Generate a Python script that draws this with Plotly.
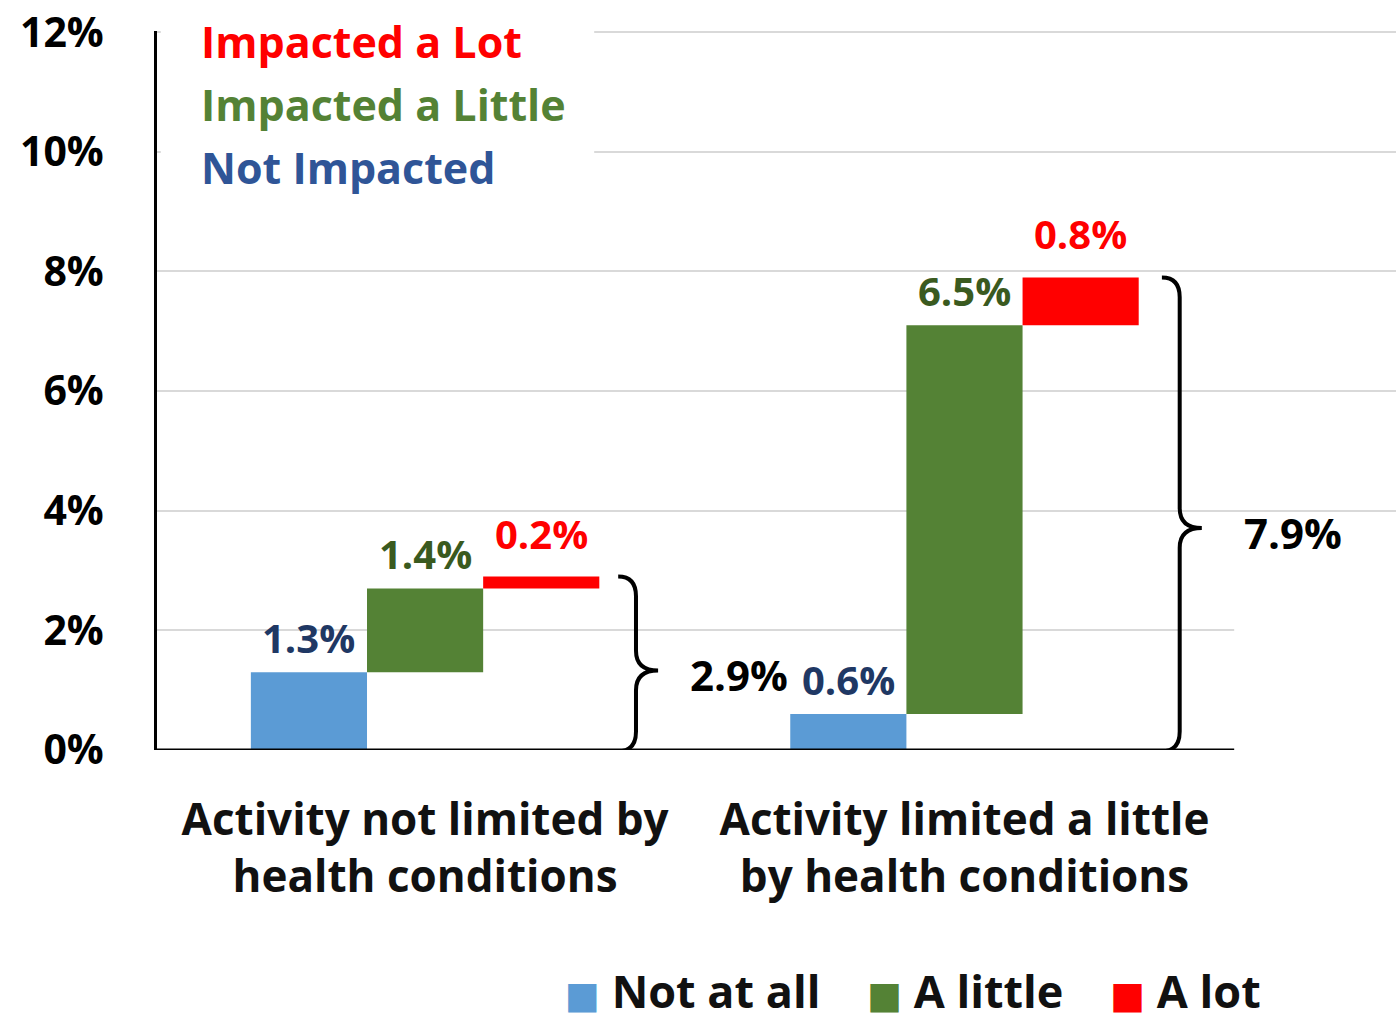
import plotly.graph_objects as go

categories = ["Activity not limited by<br>health conditions",
              "Activity limited a little<br>by health conditions"]
series_names = ["Not at all", "A little", "A lot"]
not_at_all = [0.013, 0.006]
a_little = [0.014, 0.065]
a_lot = [0.002, 0.008]
totals = [0.029, 0.079]
y_ticks = [0, 0.02, 0.04, 0.06, 0.08, 0.10, 0.12]
impact_labels = ["Impacted a Lot", "Impacted a Little", "Not Impacted"]

bar_colors = ["#5B9BD5", "#548235", "#FF0000"]
label_colors = ["#1F3864", "#3A5A1F", "#FF0000"]
impact_colors = ["#FF0000", "#548235", "#2F5597"]
FONT = "Open Sans"

x_pos = [0, 1]
bargap = 0.354
bar_w = (1 - bargap) / 3
x_range = [-0.497, 1.80]

series = [not_at_all, a_little, a_lot]
bases = []
running = [0.0, 0.0]
for vals in series:
    bases.append(list(running))
    running = [r + v for r, v in zip(running, vals)]

fig = go.Figure()
for i, (name, vals) in enumerate(zip(series_names, series)):
    fig.add_trace(go.Bar(
        x=x_pos, y=vals, base=bases[i], name=name,
        marker_color=bar_colors[i], marker_line_width=0,
        showlegend=False, hoverinfo="skip"))

annotations = []
# value labels above each bar
for i, vals in enumerate(series):
    for g, v in enumerate(vals):
        annotations.append(dict(
            x=x_pos[g] + (i - 1) * bar_w, y=bases[i][g] + v,
            xref="x", yref="y", text=f"{v * 100:.1f}%", showarrow=False,
            yanchor="bottom", yshift=14 if i == 2 else 5,
            font=dict(family=FONT, size=40, color=label_colors[i], weight="bold")))

# braces with totals
shapes = []
for g, tot in enumerate(totals):
    x0 = x_pos[g] + 1.5 * bar_w + 0.035 + 0.008 * g
    xs = x0 + 0.033
    xc = x0 + 0.074
    y0, y1 = -0.0002, tot
    ym = tot / 2 - 0.0012 * (g + 1)
    r = 0.0033
    path = (f"M{x0},{y1} Q{xs},{y1} {xs},{y1 - r} L{xs},{ym + r} "
            f"Q{xs},{ym} {xc},{ym} Q{xs},{ym} {xs},{ym - r} "
            f"L{xs},{y0 + r} Q{xs},{y0} {x0},{y0}")
    shapes.append(dict(type="path", path=path, xref="x", yref="y",
                       line=dict(color="black", width=4), layer="above"))
    annotations.append(dict(
        x=xc, y=ym, xref="x", yref="y", text=f"{tot * 100:.1f}%",
        showarrow=False, xanchor="left", yanchor="middle", xshift=30 + 10 * g, yshift=-4,
        font=dict(family=FONT, size=42, color="black", weight="bold")))

# x axis line
shapes.append(dict(type="line", xref="x", yref="y", x0=x_range[0], x1=1.5,
                   y0=0, y1=0, line=dict(color="black", width=3), layer="above"))
# white box behind the impact key, and the short 2% gridline
shapes.append(dict(type="rect", xref="x", yref="y", x0=-0.49, x1=0.3135,
                   y0=0.09, y1=0.1215, fillcolor="white", line_width=0, layer="between"))
shapes.append(dict(type="line", xref="x", yref="y", x0=1.5, x1=x_range[1],
                   y0=0.02, y1=0.02, line=dict(color="white", width=4), layer="between"))

# impact key top-left
for k, (txt, col) in enumerate(zip(impact_labels, impact_colors)):
    annotations.append(dict(
        x=0.034, y=0.986 - k * 0.0877, xref="paper", yref="paper", text=txt,
        showarrow=False, xanchor="left", yanchor="middle",
        font=dict(family=FONT, size=43, color=col, weight="bold")))

# bottom legend
gap = "&nbsp;" * 4
legend_txt = gap.join(
    f'<span style="color:{c};font-family:DejaVu Sans;font-size:37px">■</span>&nbsp;{n}'
    for n, c in zip(series_names, bar_colors))
annotations.append(dict(
    x=0.61, y=-0.335, xref="paper", yref="paper", text=legend_txt,
    showarrow=False, xanchor="center", yanchor="middle",
    font=dict(family=FONT, size=45, color="#111111", weight="bold")))

fig.update_layout(
    width=1396, height=1014, autosize=False,
    margin=dict(l=157, r=0, t=31, b=264),
    plot_bgcolor="white", paper_bgcolor="white",
    barmode="group", bargap=bargap, bargroupgap=0,
    annotations=annotations, shapes=shapes,
    showlegend=False,
)
fig.update_xaxes(
    range=x_range, tickvals=x_pos, ticktext=categories, automargin=False,
    showgrid=False, zeroline=False, showline=False, ticks="",
    ticklabelstandoff=40,
    tickfont=dict(family=FONT, size=44, color="#111111", weight="bold"))
fig.update_yaxes(
    range=[0, 0.1202], tickvals=y_ticks, tickformat=".0%", automargin=False,
    showgrid=True, gridcolor="#D9D9D9", gridwidth=2,
    zeroline=False, showline=True, linecolor="black", linewidth=3,
    ticks="", ticklabelstandoff=42,
    tickfont=dict(family=FONT, size=41, color="black", weight="bold"))

fig.write_html("out.html", config={"displayModeBar": False},
               post_script="document.body.style.margin='0px';")
